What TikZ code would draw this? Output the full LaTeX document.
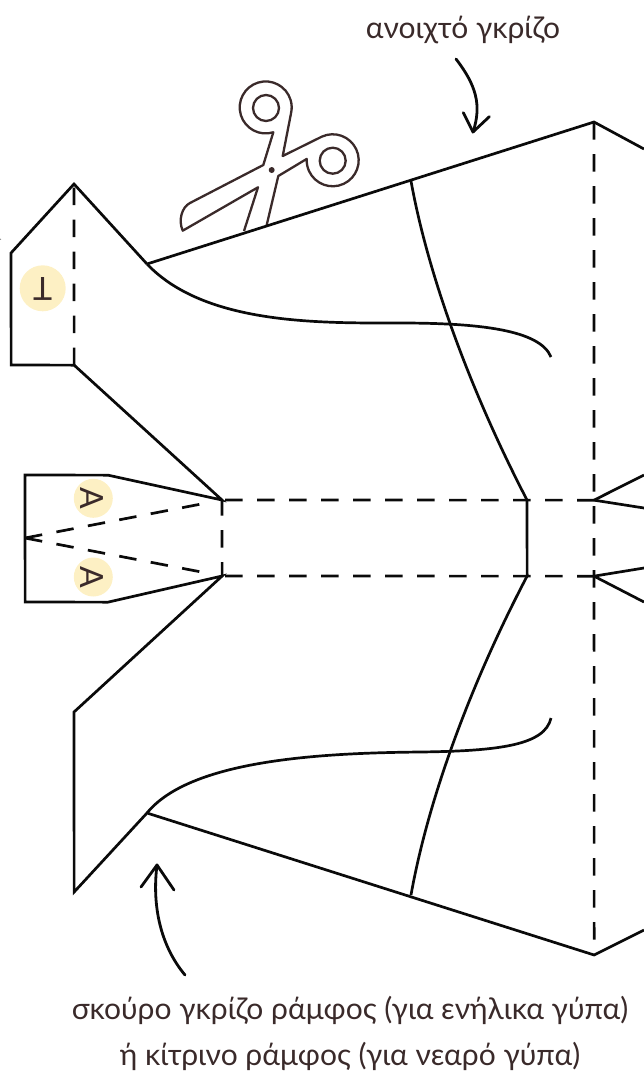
\documentclass[tikz,border=0pt]{standalone}
\usepackage{fontspec}
\setmainfont{Lato}
\definecolor{tabyellow}{HTML}{FDF0C4}
\definecolor{scissorbrown}{HTML}{3A2A2A}
\definecolor{inkblack}{HTML}{0A0A0A}
\tikzset{
  cutline/.style={line width=2.7pt,draw=inkblack,line join=miter},
  foldline/.style={line width=2.7pt,draw=inkblack,dash pattern=on 17.5pt off 14.5pt},
  pointer/.style={line width=2.8pt,draw=inkblack,line cap=round,line join=round},
  scissorline/.style={line width=2.3pt,draw=scissorbrown,line join=round},
  gluecircle/.style={circle,fill=tabyellow,inner sep=0pt},
  gluetext/.style={font=\fontsize{32}{32}\selectfont,text=scissorbrown,inner sep=0pt},
  caption/.style={font=\fontsize{30}{46}\selectfont,text=scissorbrown,inner sep=0pt,align=center}
}
\begin{document}
\begin{tikzpicture}[x=1pt,y=-1pt]
\useasboundingbox (0,0) rectangle (644,1080);
% named points (a hair off the pixel axes so that strokes keep their width)
\coordinate (neckT) at (147,264);
\coordinate (headT) at (74,184);
\coordinate (headL) at (11,253);
\coordinate (headB) at (11.15,365);
\coordinate (headF) at (74.15,365.15);
\coordinate (jawT) at (222,500);
\coordinate (jawB) at (222.15,576);
\coordinate (tabT) at (108,475.15);
\coordinate (tabTL) at (25,475);
\coordinate (tabBL) at (25.15,602);
\coordinate (tabB) at (108,602.15);
\coordinate (tabM) at (25,538);
\coordinate (lowF) at (74,712);
\coordinate (lowB) at (74.15,892);
\coordinate (neckB) at (147,813);
\coordinate (backT) at (594,122);
\coordinate (backB) at (594.15,955);
\coordinate (wingT) at (411,181);
\coordinate (wingB) at (411,895);
\coordinate (legT) at (527,500);
\coordinate (legB) at (527.15,576);
\coordinate (spineT) at (594,500.15);
\coordinate (spineB) at (594,576.15);
% glue circles
\node[gluecircle,minimum size=46pt] (glueT) at (42.7,288.3) {};
\node[gluecircle,minimum size=39pt] (glueA) at (93.3,498.3) {};
\node[gluecircle,minimum size=39pt] (glueB) at (93.3,577) {};
\node[gluetext,rotate=180] (letterT) at (42.7,289) {T};
\node[gluetext,rotate=-90] (letterA) at (92,498.3) {A};
\node[gluetext,rotate=-90] (letterB) at (92,577) {A};
% scissors
\draw[scissorline] (244,231) -- (258,187.3) -- (182.7,230.7)
  .. controls (178,220) and (182,207) .. (190,203) -- (263.3,165) -- (273.3,132.3)
  arc[start angle=73,end angle=373,radius=26] -- (282.7,156) -- (321.7,136.7)
  arc[start angle=245,end angle=543,radius=26] -- (278.3,176) -- (266.7,225);
\draw[scissorline] (266,108) circle[radius=13];
\draw[scissorline] (332.7,160.7) circle[radius=13];
\fill[scissorbrown] (271.7,170) circle[radius=3];
% outline
\draw[cutline] (neckT) -- (headT) -- (headL) -- (headB) -- (headF) -- (jawT)
  -- (tabT) -- (tabTL) -- (tabBL) -- (tabB) -- (jawB) -- (lowF) -- (lowB) -- (neckB) -- (backB) -- (644,930);
\draw[cutline] (neckT) -- (backT) -- (644,149);
\draw[cutline] (legT) -- (legB);
\draw[cutline] (spineT) -- (644,475);
\draw[cutline] (spineT) -- (644,508);
\draw[cutline] (spineB) -- (644,568);
\draw[cutline] (spineB) -- (644,602);
% curves
\draw[cutline] (wingT) .. controls (428,275) and (470,390) .. (legT);
\draw[cutline] (wingB) .. controls (428,800) and (470,685) .. (legB);
\draw[cutline] (neckT) .. controls (205,325) and (320,323) .. (400,323)
  .. controls (480,323) and (540,330) .. (551,357);
\draw[cutline] (neckB) .. controls (190,760) and (320,753) .. (420,752)
  .. controls (500,751) and (545,745) .. (551,718);
% fold lines
\draw[foldline] (headF) -- (headT);
\draw[foldline,dash phase=2pt] (jawT) -- (jawB);
\draw[foldline] (225,500) -- (spineT);
\draw[foldline] (225,576) -- (spineB);
\draw[foldline] (backT) -- (backB);
\draw[foldline,shorten >=20pt] (tabM) -- (jawT);
\draw[foldline,shorten >=20pt] (tabM) -- (jawB);
% labels
\node[caption] (lightlabel) at (463,30) {ανοιχτό γκρίζο};
\node[caption] (darklabel) at (350,1033) {σκούρο γκρίζο ράμφος (για ενήλικα γύπα)\\ή κίτρινο ράμφος (για νεαρό γύπα)};
% pointers
\coordinate (pa) at (456,59);
\coordinate (pb) at (473,132);
\coordinate (qa) at (185,975);
\coordinate (qb) at (157,865);
\draw[pointer] (pa) .. controls (476,85) and (482,105) .. (pb);
\draw[pointer] (463.3,112.7) -- (pb) -- (489.3,116.7);
\draw[pointer] (qa) .. controls (160,945) and (152,905) .. (qb);
\draw[pointer] (141,887) -- (qb) -- (174,890);
\draw[line width=0.8pt,draw=gray] (0,239) -- (1,239.5);
\end{tikzpicture}
\end{document}
